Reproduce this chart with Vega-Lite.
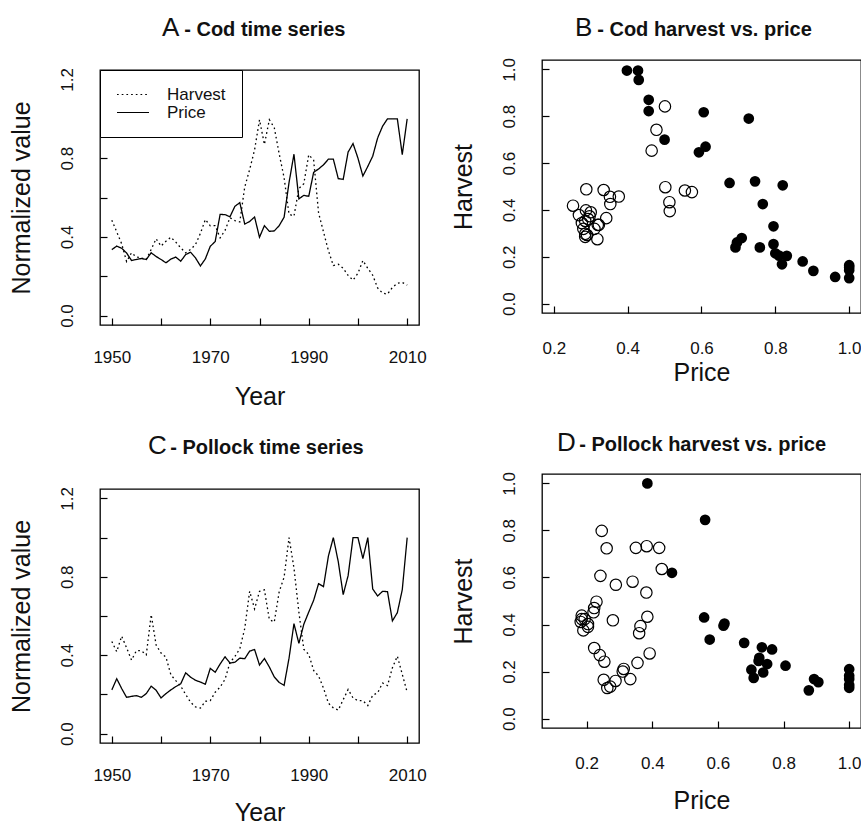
{
  "$schema": "https://vega.github.io/schema/vega-lite/v6.json",
  "background": "white",
  "padding": {"left": 8, "top": -36, "right": 0, "bottom": 0},
  "config": {
    "font": "Liberation Sans",
    "view": {"stroke": "black", "strokeWidth": 1.3},
    "axis": {
      "domain": false, "grid": false,
      "tickColor": "black", "tickSize": -7, "tickWidth": 1.2,
      "labelFont": "Liberation Sans", "labelFontSize": 17, "labelColor": "#111",
      "labelFlush": false, "labelOverlap": false,
      "titleFont": "Liberation Sans", "titleFontSize": 25, "titleFontWeight": "normal", "titleColor": "#111"
    },
    "axisX": {"labelPadding": 31, "titlePadding": 19},
    "axisY": {"labelAngle": -90, "labelAlign": "center", "labelBaseline": "bottom", "labelPadding": 31, "titlePadding": 24},
    "title": {
      "frame": "group", "anchor": "start", "align": "left",
      "font": "Liberation Sans", "fontSize": 26, "fontWeight": "normal", "color": "#111",
      "subtitleFont": "Liberation Sans", "subtitleFontSize": 20, "subtitleFontWeight": "bold", "subtitleColor": "#111",
      "subtitlePadding": -21
    }
  },
  "datasets": {
    "cod": [
      {"year":1950,"Harvest":0.485,"Price":0.335},{"year":1951,"Harvest":0.425,"Price":0.353},{"year":1952,"Harvest":0.365,"Price":0.342},
      {"year":1953,"Harvest":0.275,"Price":0.318},{"year":1954,"Harvest":0.319,"Price":0.28},{"year":1955,"Harvest":0.298,"Price":0.285},
      {"year":1956,"Harvest":0.293,"Price":0.29},{"year":1957,"Harvest":0.285,"Price":0.285},{"year":1958,"Harvest":0.336,"Price":0.319},
      {"year":1959,"Harvest":0.39,"Price":0.3},{"year":1960,"Harvest":0.353,"Price":0.285},{"year":1961,"Harvest":0.378,"Price":0.268},
      {"year":1962,"Harvest":0.398,"Price":0.287},{"year":1963,"Harvest":0.373,"Price":0.297},{"year":1964,"Harvest":0.344,"Price":0.276},
      {"year":1965,"Harvest":0.319,"Price":0.31},{"year":1966,"Harvest":0.336,"Price":0.322},{"year":1967,"Harvest":0.361,"Price":0.293},
      {"year":1968,"Harvest":0.418,"Price":0.252},{"year":1969,"Harvest":0.488,"Price":0.288},{"year":1970,"Harvest":0.456,"Price":0.352},
      {"year":1971,"Harvest":0.457,"Price":0.376},{"year":1972,"Harvest":0.395,"Price":0.514},{"year":1973,"Harvest":0.433,"Price":0.513},
      {"year":1974,"Harvest":0.497,"Price":0.502},{"year":1975,"Harvest":0.483,"Price":0.555},{"year":1976,"Harvest":0.476,"Price":0.574},
      {"year":1977,"Harvest":0.653,"Price":0.465},{"year":1978,"Harvest":0.742,"Price":0.478},{"year":1979,"Harvest":0.842,"Price":0.501},
      {"year":1980,"Harvest":0.995,"Price":0.398},{"year":1981,"Harvest":0.87,"Price":0.457},{"year":1982,"Harvest":0.995,"Price":0.428},
      {"year":1983,"Harvest":0.955,"Price":0.43},{"year":1984,"Harvest":0.822,"Price":0.457},{"year":1985,"Harvest":0.7,"Price":0.5},
      {"year":1986,"Harvest":0.515,"Price":0.676},{"year":1987,"Harvest":0.505,"Price":0.82},{"year":1988,"Harvest":0.646,"Price":0.593},
      {"year":1989,"Harvest":0.67,"Price":0.611},{"year":1990,"Harvest":0.817,"Price":0.606},{"year":1991,"Harvest":0.79,"Price":0.728},
      {"year":1992,"Harvest":0.522,"Price":0.745},{"year":1993,"Harvest":0.425,"Price":0.766},{"year":1994,"Harvest":0.33,"Price":0.795},
      {"year":1995,"Harvest":0.254,"Price":0.795},{"year":1996,"Harvest":0.261,"Price":0.696},{"year":1997,"Harvest":0.24,"Price":0.692},
      {"year":1998,"Harvest":0.204,"Price":0.831},{"year":1999,"Harvest":0.18,"Price":0.874},{"year":2000,"Harvest":0.215,"Price":0.8},
      {"year":2001,"Harvest":0.28,"Price":0.709},{"year":2002,"Harvest":0.24,"Price":0.758},{"year":2003,"Harvest":0.205,"Price":0.81},
      {"year":2004,"Harvest":0.14,"Price":0.903},{"year":2005,"Harvest":0.114,"Price":0.962},{"year":2006,"Harvest":0.109,"Price":1.0},
      {"year":2007,"Harvest":0.143,"Price":1.0},{"year":2008,"Harvest":0.164,"Price":1.0},{"year":2009,"Harvest":0.168,"Price":0.818},
      {"year":2010,"Harvest":0.155,"Price":1.0}
    ],
    "pollock": [
      {"year":1950,"Harvest":0.47,"Price":0.223},{"year":1951,"Harvest":0.418,"Price":0.28},{"year":1952,"Harvest":0.497,"Price":0.23},
      {"year":1953,"Harvest":0.438,"Price":0.185},{"year":1954,"Harvest":0.375,"Price":0.19},{"year":1955,"Harvest":0.423,"Price":0.194},
      {"year":1956,"Harvest":0.423,"Price":0.185},{"year":1957,"Harvest":0.402,"Price":0.204},{"year":1958,"Harvest":0.607,"Price":0.242},
      {"year":1959,"Harvest":0.452,"Price":0.221},{"year":1960,"Harvest":0.411,"Price":0.182},{"year":1961,"Harvest":0.39,"Price":0.204},
      {"year":1962,"Harvest":0.3,"Price":0.223},{"year":1963,"Harvest":0.27,"Price":0.24},{"year":1964,"Harvest":0.242,"Price":0.254},
      {"year":1965,"Harvest":0.2,"Price":0.31},{"year":1966,"Harvest":0.16,"Price":0.288},{"year":1967,"Harvest":0.136,"Price":0.272},
      {"year":1968,"Harvest":0.13,"Price":0.263},{"year":1969,"Harvest":0.165,"Price":0.252},{"year":1970,"Harvest":0.168,"Price":0.333},
      {"year":1971,"Harvest":0.211,"Price":0.313},{"year":1972,"Harvest":0.237,"Price":0.355},{"year":1973,"Harvest":0.277,"Price":0.392},
      {"year":1974,"Harvest":0.363,"Price":0.36},{"year":1975,"Harvest":0.393,"Price":0.364},{"year":1976,"Harvest":0.433,"Price":0.385},
      {"year":1977,"Harvest":0.536,"Price":0.382},{"year":1978,"Harvest":0.726,"Price":0.421},{"year":1979,"Harvest":0.636,"Price":0.429},
      {"year":1980,"Harvest":0.726,"Price":0.35},{"year":1981,"Harvest":0.733,"Price":0.383},{"year":1982,"Harvest":0.582,"Price":0.34},
      {"year":1983,"Harvest":0.569,"Price":0.289},{"year":1984,"Harvest":0.724,"Price":0.261},{"year":1985,"Harvest":0.798,"Price":0.246},
      {"year":1986,"Harvest":1.0,"Price":0.385},{"year":1987,"Harvest":0.845,"Price":0.561},{"year":1988,"Harvest":0.62,"Price":0.46},
      {"year":1989,"Harvest":0.43,"Price":0.558},{"year":1990,"Harvest":0.404,"Price":0.62},{"year":1991,"Harvest":0.322,"Price":0.68},
      {"year":1992,"Harvest":0.294,"Price":0.765},{"year":1993,"Harvest":0.232,"Price":0.75},{"year":1994,"Harvest":0.155,"Price":0.906},
      {"year":1995,"Harvest":0.131,"Price":1.0},{"year":1996,"Harvest":0.12,"Price":0.877},{"year":1997,"Harvest":0.173,"Price":0.709},
      {"year":1998,"Harvest":0.225,"Price":0.806},{"year":1999,"Harvest":0.182,"Price":1.0},{"year":2000,"Harvest":0.168,"Price":1.0},
      {"year":2001,"Harvest":0.168,"Price":0.893},{"year":2002,"Harvest":0.143,"Price":1.0},{"year":2003,"Harvest":0.196,"Price":0.738},
      {"year":2004,"Harvest":0.208,"Price":0.702},{"year":2005,"Harvest":0.258,"Price":0.726},{"year":2006,"Harvest":0.245,"Price":0.724},
      {"year":2007,"Harvest":0.336,"Price":0.575},{"year":2008,"Harvest":0.395,"Price":0.617},{"year":2009,"Harvest":0.303,"Price":0.734},
      {"year":2010,"Harvest":0.21,"Price":1.0}
    ]
  },
  "spacing": 23,
  "resolve": {"scale": {"strokeDash": "independent"}, "legend": {"strokeDash": "independent"}},
  "hconcat": [
    {
      "spacing": 21,
      "resolve": {"scale": {"strokeDash": "independent"}, "legend": {"strokeDash": "independent"}},
      "vconcat": [
        {"width": 10, "height": 25, "view": {"stroke": null}, "data": {"values": [{}]}, "mark": {"type": "point", "opacity": 0}},
        {
          "width": 319, "height": 255,
          "title": {"text": "A", "subtitle": "\u200b\u00a0\u00a0\u00a0\u00a0- Cod time series", "dx": 62, "offset": 27},
          "data": {"name": "cod"},
          "transform": [{"fold": ["Harvest", "Price"], "as": ["series", "value"]}],
          "mark": {"type": "line", "color": "black", "strokeWidth": 1.3},
          "encoding": {
            "x": {"field": "year", "type": "quantitative",
                  "scale": {"domain": [1947.6, 2012.4], "nice": false, "zero": false},
                  "axis": {"title": "Year", "values": [1950, 1960, 1970, 1980, 1990, 2000, 2010],
                           "labelExpr": "(datum.value - 1950) % 20 == 0 ? format(datum.value, 'd') : ''"}},
            "y": {"field": "value", "type": "quantitative",
                  "scale": {"domain": [-0.048, 1.248], "nice": false, "zero": false},
                  "axis": {"title": "Normalized value", "values": [0, 0.2, 0.4, 0.6, 0.8, 1, 1.2],
                           "labelExpr": "round(datum.value * 10) % 4 == 0 ? format(datum.value, '.1f') : ''"}},
            "strokeDash": {"field": "series", "type": "nominal",
                           "scale": {"domain": ["Harvest", "Price"], "range": [[1.7, 3], [1, 0]]},
                           "legend": {"title": null, "orient": "top-left", "offset": 0,
                                      "strokeColor": "black", "fillColor": "white", "padding": 16,
                                      "symbolType": "stroke", "symbolSize": 1024, "symbolStrokeWidth": 1.2,
                                      "symbolStrokeColor": "black", "labelFontSize": 17, "labelOffset": 17,
                                      "clipHeight": 17, "rowPadding": 0, "labelColor": "#111", "labelFont": "Liberation Sans"}}
          }
        },
        {
          "width": 319, "height": 254,
          "title": {"text": "C", "subtitle": "\u200b\u00a0\u00a0\u00a0\u00a0- Pollock time series", "dx": 48, "offset": 28},
          "data": {"name": "pollock"},
          "transform": [{"fold": ["Harvest", "Price"], "as": ["series", "value"]}],
          "mark": {"type": "line", "color": "black", "strokeWidth": 1.3},
          "encoding": {
            "x": {"field": "year", "type": "quantitative",
                  "scale": {"domain": [1947.6, 2012.4], "nice": false, "zero": false},
                  "axis": {"title": "Year", "values": [1950, 1960, 1970, 1980, 1990, 2000, 2010], "titlePadding": 17,
                           "labelExpr": "(datum.value - 1950) % 20 == 0 ? format(datum.value, 'd') : ''"}},
            "y": {"field": "value", "type": "quantitative",
                  "scale": {"domain": [-0.048, 1.248], "nice": false, "zero": false},
                  "axis": {"title": "Normalized value", "values": [0, 0.2, 0.4, 0.6, 0.8, 1, 1.2],
                           "labelExpr": "round(datum.value * 10) % 4 == 0 ? format(datum.value, '.1f') : ''"}},
            "strokeDash": {"field": "series", "type": "nominal",
                           "scale": {"domain": ["Harvest", "Price"], "range": [[1.7, 3], [1, 0]]},
                           "legend": null}
          }
        }
      ]
    },
    {
      "spacing": 42,
      "vconcat": [
        {"width": 10, "height": 1, "view": {"stroke": null}, "data": {"values": [{}]}, "mark": {"type": "point", "opacity": 0}},
        {
          "width": 319, "height": 253,
          "title": {"text": "B", "subtitle": "\u200b\u00a0\u00a0\u00a0\u00a0- Cod harvest vs. price", "dx": 33, "offset": 17},
          "data": {"name": "cod"},
          "encoding": {
            "x": {"field": "Price", "type": "quantitative",
                  "scale": {"domain": [0.168, 1.032], "nice": false, "zero": false},
                  "axis": {"title": "Price", "values": [0.2, 0.4, 0.6, 0.8, 1.0], "format": ".1f", "labelPadding": 34, "titlePadding": 4}},
            "y": {"field": "Harvest", "type": "quantitative",
                  "scale": {"domain": [-0.04, 1.04], "nice": false, "zero": false},
                  "axis": {"title": "Harvest", "values": [0, 0.2, 0.4, 0.6, 0.8, 1.0], "format": ".1f"}}
          },
          "layer": [
            {"transform": [{"filter": "datum.year < 1980"}],
             "mark": {"type": "point", "shape": "circle", "filled": false, "color": "black", "size": 130, "strokeWidth": 1.2, "opacity": 1}},
            {"transform": [{"filter": "datum.year >= 1980"}],
             "mark": {"type": "circle", "color": "black", "size": 115, "opacity": 1}}
          ]
        },
        {
          "width": 319, "height": 254,
          "title": {"text": "D", "subtitle": "\u200b\u00a0\u00a0\u00a0\u00a0- Pollock harvest vs. price", "dx": 15, "offset": 16},
          "data": {"name": "pollock"},
          "encoding": {
            "x": {"field": "Price", "type": "quantitative",
                  "scale": {"domain": [0.064, 1.036], "nice": false, "zero": false},
                  "axis": {"title": "Price", "values": [0.2, 0.4, 0.6, 0.8, 1.0], "format": ".1f", "labelPadding": 34, "titlePadding": 17}},
            "y": {"field": "Harvest", "type": "quantitative",
                  "scale": {"domain": [-0.04, 1.04], "nice": false, "zero": false},
                  "axis": {"title": "Harvest", "values": [0, 0.2, 0.4, 0.6, 0.8, 1.0], "format": ".1f"}}
          },
          "layer": [
            {"transform": [{"filter": "datum.year < 1986"}],
             "mark": {"type": "point", "shape": "circle", "filled": false, "color": "black", "size": 130, "strokeWidth": 1.2, "opacity": 1}},
            {"transform": [{"filter": "datum.year >= 1986"}],
             "mark": {"type": "circle", "color": "black", "size": 115, "opacity": 1}}
          ]
        }
      ]
    }
  ]
}
